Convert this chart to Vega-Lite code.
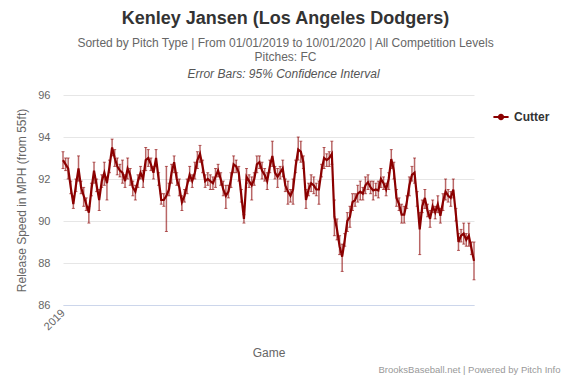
{
"$schema": "https://vega.github.io/schema/vega-lite/v6.json",
"width": 411, "height": 210,
"autosize": {"type": "none"},
"padding": {"left": 63, "top": 95, "right": 92, "bottom": 72},
"background": "white",
"config": {"font": "Liberation Sans", "view": {"stroke": null}},
"title": {"text": "Kenley Jansen (Los Angeles Dodgers)", "subtitle": ["Sorted by Pitch Type | From 01/01/2019 to 10/01/2020 | All Competition Levels", "Pitches: FC"], "anchor": "middle", "dx": 17, "fontSize": 18, "fontWeight": "bold", "color": "#333333", "subtitleFontSize": 12, "subtitleColor": "#666666", "subtitlePadding": 10, "subtitleLineHeight": 14, "offset": 4, "font": "Liberation Sans", "subtitleFont": "Liberation Sans"},
"data": {"values": [
{"g":1,"v":92.9,"lo":92.5,"hi":93.3},{"g":2,"v":92.7,"lo":92.4,"hi":93.0},{"g":3,"v":92.5,"lo":92.0,"hi":93.0},{"g":4,"v":91.6,"lo":91.3,"hi":91.9},{"g":5,"v":90.8,"lo":90.6,"hi":91.2},
{"g":6,"v":91.7,"lo":91.4,"hi":92.0},{"g":7,"v":92.5,"lo":91.9,"hi":93.1},{"g":8,"v":91.6,"lo":91.3,"hi":91.9},{"g":9,"v":91.2,"lo":90.7,"hi":91.6},{"g":10,"v":90.8,"lo":90.5,"hi":91.1},
{"g":11,"v":90.4,"lo":89.9,"hi":90.7},{"g":12,"v":91.5,"lo":91.2,"hi":91.8},{"g":13,"v":92.4,"lo":91.8,"hi":92.8},{"g":14,"v":91.7,"lo":91.4,"hi":92.0},{"g":15,"v":91.0,"lo":90.5,"hi":91.5},
{"g":16,"v":91.9,"lo":91.6,"hi":92.2},{"g":17,"v":92.3,"lo":91.7,"hi":92.8},{"g":18,"v":91.8,"lo":91.0,"hi":92.1},{"g":19,"v":92.6,"lo":92.3,"hi":92.9},{"g":20,"v":93.5,"lo":93.1,"hi":93.9},
{"g":21,"v":93.0,"lo":92.6,"hi":93.4},{"g":22,"v":92.6,"lo":92.2,"hi":93.0},{"g":23,"v":92.4,"lo":92.1,"hi":92.7},{"g":24,"v":92.3,"lo":91.8,"hi":92.9},{"g":25,"v":91.9,"lo":91.6,"hi":92.2},
{"g":26,"v":92.5,"lo":92.0,"hi":93.0},{"g":27,"v":92.2,"lo":91.7,"hi":92.5},{"g":28,"v":91.6,"lo":91.2,"hi":91.9},{"g":29,"v":91.4,"lo":91.0,"hi":91.7},{"g":30,"v":91.9,"lo":91.6,"hi":92.2},
{"g":31,"v":92.3,"lo":92.0,"hi":92.6},{"g":32,"v":92.0,"lo":91.6,"hi":92.4},{"g":33,"v":92.9,"lo":92.4,"hi":93.5},{"g":34,"v":93.0,"lo":92.6,"hi":93.4},{"g":35,"v":92.7,"lo":92.4,"hi":93.0},
{"g":36,"v":92.3,"lo":92.0,"hi":92.6},{"g":37,"v":93.0,"lo":92.6,"hi":93.4},{"g":38,"v":92.0,"lo":91.7,"hi":92.3},{"g":39,"v":91.0,"lo":90.8,"hi":91.3},{"g":40,"v":91.0,"lo":90.7,"hi":91.3},
{"g":41,"v":91.2,"lo":89.5,"hi":92.6},{"g":42,"v":91.5,"lo":91.2,"hi":91.8},{"g":43,"v":92.3,"lo":91.8,"hi":92.7},{"g":44,"v":92.8,"lo":92.3,"hi":93.1},{"g":45,"v":92.0,"lo":91.7,"hi":92.3},
{"g":46,"v":91.6,"lo":91.2,"hi":92.0},{"g":47,"v":90.9,"lo":90.5,"hi":91.2},{"g":48,"v":91.2,"lo":90.9,"hi":91.5},{"g":49,"v":91.7,"lo":91.3,"hi":92.0},{"g":50,"v":92.2,"lo":91.9,"hi":92.6},
{"g":51,"v":91.9,"lo":91.6,"hi":92.2},{"g":52,"v":92.3,"lo":92.0,"hi":92.8},{"g":53,"v":92.9,"lo":92.5,"hi":93.3},{"g":54,"v":93.2,"lo":92.8,"hi":93.6},{"g":55,"v":92.6,"lo":92.3,"hi":92.9},
{"g":56,"v":91.9,"lo":91.6,"hi":92.2},{"g":57,"v":92.0,"lo":91.7,"hi":92.3},{"g":58,"v":91.9,"lo":91.5,"hi":92.2},{"g":59,"v":91.8,"lo":91.5,"hi":92.1},{"g":60,"v":92.1,"lo":91.6,"hi":92.5},
{"g":61,"v":92.4,"lo":92.1,"hi":92.7},{"g":62,"v":92.0,"lo":91.7,"hi":92.3},{"g":63,"v":91.5,"lo":91.2,"hi":91.9},{"g":64,"v":91.2,"lo":90.6,"hi":91.7},{"g":65,"v":91.4,"lo":91.1,"hi":91.7},
{"g":66,"v":92.0,"lo":91.6,"hi":92.3},{"g":67,"v":92.7,"lo":92.3,"hi":93.1},{"g":68,"v":92.6,"lo":92.3,"hi":92.9},{"g":69,"v":92.3,"lo":91.9,"hi":92.6},{"g":70,"v":91.2,"lo":90.9,"hi":91.5},
{"g":71,"v":90.1,"lo":89.9,"hi":90.3},{"g":72,"v":92.1,"lo":91.8,"hi":92.5},{"g":73,"v":91.9,"lo":91.6,"hi":92.2},{"g":74,"v":91.7,"lo":91.0,"hi":92.1},{"g":75,"v":92.0,"lo":91.7,"hi":92.3},
{"g":76,"v":92.7,"lo":92.3,"hi":93.1},{"g":77,"v":92.8,"lo":92.5,"hi":93.1},{"g":78,"v":92.4,"lo":92.0,"hi":92.8},{"g":79,"v":92.2,"lo":91.9,"hi":92.5},{"g":80,"v":91.9,"lo":91.5,"hi":92.3},
{"g":81,"v":92.6,"lo":92.3,"hi":92.9},{"g":82,"v":93.1,"lo":92.6,"hi":93.8},{"g":83,"v":92.3,"lo":92.0,"hi":92.6},{"g":84,"v":92.1,"lo":91.6,"hi":92.5},{"g":85,"v":92.3,"lo":92.0,"hi":92.6},
{"g":86,"v":92.5,"lo":92.1,"hi":92.9},{"g":87,"v":91.7,"lo":91.4,"hi":92.0},{"g":88,"v":91.4,"lo":90.8,"hi":91.9},{"g":89,"v":91.2,"lo":90.9,"hi":91.5},{"g":90,"v":91.5,"lo":90.8,"hi":92.0},
{"g":91,"v":92.6,"lo":92.3,"hi":92.9},{"g":92,"v":93.4,"lo":92.9,"hi":94.0},{"g":93,"v":93.3,"lo":92.8,"hi":93.8},{"g":94,"v":92.8,"lo":92.5,"hi":93.1},{"g":95,"v":91.0,"lo":90.6,"hi":91.5},
{"g":96,"v":91.5,"lo":91.2,"hi":91.8},{"g":97,"v":91.8,"lo":91.4,"hi":92.2},{"g":98,"v":91.7,"lo":91.3,"hi":92.1},{"g":99,"v":91.5,"lo":91.2,"hi":91.8},{"g":100,"v":91.5,"lo":90.8,"hi":91.9},
{"g":101,"v":92.4,"lo":92.1,"hi":92.7},{"g":102,"v":93.0,"lo":92.5,"hi":93.5},{"g":103,"v":92.9,"lo":92.6,"hi":93.2},{"g":104,"v":93.0,"lo":92.6,"hi":93.3},{"g":105,"v":93.2,"lo":92.7,"hi":93.8},
{"g":106,"v":90.2,"lo":89.3,"hi":91.0},{"g":107,"v":89.6,"lo":89.1,"hi":90.1},{"g":108,"v":88.8,"lo":88.4,"hi":89.3},{"g":109,"v":88.3,"lo":87.6,"hi":88.9},{"g":110,"v":89.1,"lo":88.8,"hi":89.4},
{"g":111,"v":90.0,"lo":89.5,"hi":90.4},{"g":112,"v":90.2,"lo":89.7,"hi":90.7},{"g":113,"v":90.9,"lo":90.5,"hi":91.3},{"g":114,"v":91.0,"lo":90.7,"hi":91.3},{"g":115,"v":91.3,"lo":90.9,"hi":91.7},
{"g":116,"v":91.4,"lo":91.0,"hi":91.9},{"g":117,"v":91.3,"lo":91.0,"hi":91.6},{"g":118,"v":91.7,"lo":91.3,"hi":92.1},{"g":119,"v":91.85,"lo":91.5,"hi":92.2},{"g":120,"v":91.6,"lo":91.3,"hi":91.9},
{"g":121,"v":91.45,"lo":91.0,"hi":91.9},{"g":122,"v":91.5,"lo":91.2,"hi":91.8},{"g":123,"v":91.45,"lo":91.1,"hi":91.9},{"g":124,"v":92.0,"lo":91.6,"hi":92.5},{"g":125,"v":91.8,"lo":91.5,"hi":92.1},
{"g":126,"v":91.5,"lo":91.2,"hi":91.8},{"g":127,"v":92.0,"lo":91.5,"hi":92.3},{"g":128,"v":92.95,"lo":92.5,"hi":93.4},{"g":129,"v":92.4,"lo":92.0,"hi":92.8},{"g":130,"v":91.1,"lo":90.7,"hi":91.5},
{"g":131,"v":90.8,"lo":90.5,"hi":91.1},{"g":132,"v":90.3,"lo":89.9,"hi":90.8},{"g":133,"v":90.3,"lo":89.9,"hi":90.7},{"g":134,"v":90.9,"lo":90.6,"hi":91.2},{"g":135,"v":91.7,"lo":91.2,"hi":92.1},
{"g":136,"v":92.2,"lo":91.9,"hi":92.6},{"g":137,"v":92.3,"lo":91.8,"hi":93.0},{"g":138,"v":91.05,"lo":90.7,"hi":91.4},{"g":139,"v":89.6,"lo":88.4,"hi":90.4},{"g":140,"v":90.7,"lo":90.4,"hi":91.0},
{"g":141,"v":91.1,"lo":90.6,"hi":91.5},{"g":142,"v":90.5,"lo":90.2,"hi":90.8},{"g":143,"v":90.1,"lo":89.7,"hi":90.5},{"g":144,"v":90.7,"lo":90.4,"hi":91.0},{"g":145,"v":90.4,"lo":90.1,"hi":90.7},
{"g":146,"v":90.8,"lo":90.4,"hi":91.2},{"g":147,"v":90.25,"lo":89.9,"hi":90.6},{"g":148,"v":90.9,"lo":90.5,"hi":91.3},{"g":149,"v":91.4,"lo":91.0,"hi":92.0},{"g":150,"v":91.2,"lo":90.9,"hi":91.5},
{"g":151,"v":91.1,"lo":90.7,"hi":91.4},{"g":152,"v":91.5,"lo":91.1,"hi":92.0},{"g":153,"v":90.3,"lo":90.0,"hi":90.6},{"g":154,"v":89.0,"lo":88.6,"hi":89.4},{"g":155,"v":89.3,"lo":89.0,"hi":89.6},
{"g":156,"v":89.4,"lo":88.9,"hi":89.9},{"g":157,"v":89.1,"lo":88.8,"hi":89.4},{"g":158,"v":89.3,"lo":88.8,"hi":89.9},{"g":159,"v":88.7,"lo":88.4,"hi":89.0},{"g":160,"v":88.1,"lo":87.2,"hi":89.0}
]},
"layer": [
 {"mark": {"type": "rule", "color": "#8B0000", "opacity": 0.6, "strokeWidth": 1.5},
  "encoding": {
   "x": {"field": "g", "type": "quantitative", "scale": {"domain": [1, 160], "nice": false, "zero": false},
     "axis": {"title": "Game", "values": [1], "labelExpr": "'2019'", "labelAngle": -45, "labelAlign": "right", "labelBaseline": "middle", "labelPadding": 6, "labelFontSize": 11, "labelColor": "#666666", "ticks": false, "grid": false, "domainColor": "#ccd6eb", "domainWidth": 1, "titleFontSize": 12, "titleFontWeight": "normal", "titleColor": "#666666", "titleBaseline": "middle", "titleY": 47}},
   "y": {"field": "lo", "type": "quantitative", "scale": {"domain": [86, 96], "nice": false, "zero": false},
     "axis": {"title": "Release Speed in MPH (from 55ft)", "values": [86, 88, 90, 92, 94, 96], "grid": true, "gridColor": "#e6e6e6", "domain": false, "ticks": false, "labelPadding": 13, "labelFontSize": 11, "labelColor": "#666666", "titleFontSize": 12, "titleFontWeight": "normal", "titleColor": "#666666", "titleBaseline": "middle", "titleX": -42, "titleY": 105}},
   "y2": {"field": "hi"}
  }},
 {"transform": [{"fold": ["lo", "hi"], "as": ["end", "val"]}],
  "mark": {"type": "tick", "orient": "horizontal", "color": "#8B0000", "opacity": 0.6, "size": 3, "thickness": 1},
  "encoding": {
   "x": {"field": "g", "type": "quantitative", "axis": null},
   "y": {"field": "val", "type": "quantitative", "axis": null}
  }},
 {"mark": {"type": "line", "strokeWidth": 2.2},
  "encoding": {
   "x": {"field": "g", "type": "quantitative",
     "axis": {"orient": "top", "title": "Error Bars: 95% Confidence Interval", "titleFontStyle": "italic", "titleFontWeight": "normal", "titleFontSize": 12, "titleColor": "#555555", "labels": false, "ticks": false, "domain": false, "grid": false, "titleX": 220, "titleY": -22, "titleBaseline": "middle", "titleAlign": "center"}},
   "y": {"field": "v", "type": "quantitative",
     "axis": {"orient": "right", "title": "BrooksBaseball.net | Powered by Pitch Info", "labels": false, "ticks": false, "domain": false, "grid": false, "titleAngle": 0, "titleAlign": "right", "titleBaseline": "middle", "titleX": 86, "titleY": 274, "titleFontSize": 9.5, "titleFontWeight": "normal", "titleColor": "#999999"}},
   "color": {"datum": "Cutter", "type": "nominal", "scale": {"range": ["#8B0000"]},
     "legend": {"orient": "none", "legendX": 432, "legendY": 16, "title": null, "padding": 0, "labelFontSize": 12, "labelFontWeight": "bold", "labelColor": "#333333", "labelOffset": 7, "symbolType": "M-1.6,0H1.6M-0.45,0A0.45,0.45,0,1,0,0.45,0A0.45,0.45,0,1,0,-0.45,0Z", "symbolSize": 90, "symbolStrokeWidth": 2, "symbolFillColor": "#8B0000", "symbolStrokeColor": "#8B0000"}}
  }}
],
"resolve": {"axis": {"x": "independent", "y": "independent"}}
}
